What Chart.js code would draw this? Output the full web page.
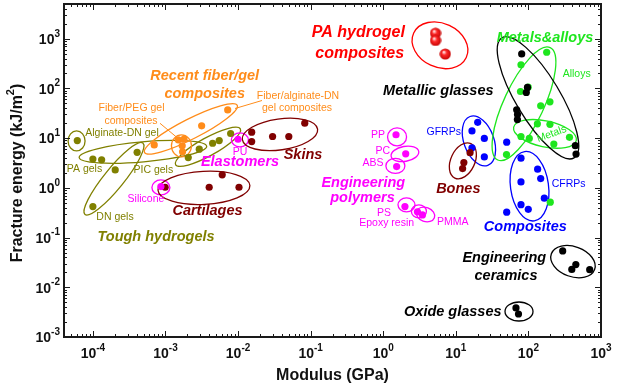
<!DOCTYPE html>
<html>
<head>
<meta charset="utf-8">
<script src="https://cdn.jsdelivr.net/npm/chart.js@4.4.1/dist/chart.umd.min.js"></script>
<style>
  body { margin: 0; background: #fff; }
  canvas { display: block; }
</style>
</head>
<body>
<canvas id="grafico" width="619" height="387"></canvas>
<script>
// values: modulus in GPa, fracture energy in kJ/m2
const hydrogelModulus = [6.1e-5, 1.0e-4, 1.32e-4, 1.0e-4, 2.03e-4, 4.07e-4, 2.06e-3, 2.92e-3, 4.46e-3, 5.5e-3, 7.9e-3]
const hydrogelEnergy  = [8.95, 3.8, 3.66, 0.42, 2.3, 5.2, 4.07, 6.0, 7.9, 8.95, 12.4]

const fiberGelModulus = [7.0e-4, 1.5e-3, 1.8e-3, 1.7e-3, 1.72e-3, 3.15e-3, 7.2e-3]
const fiberGelEnergy  = [7.3, 9.25, 9.55, 7.0, 5.3, 17.7, 37]

const elastomerModulus = [8.65e-4, 1.0e-2]
const elastomerEnergy  = [1.06, 9.5]

const polymerModulus = [1.5, 2.04, 1.53, 1.99, 2.96, 3.47]
const polymerEnergy  = [11.7, 4.83, 2.68, 0.42, 0.33, 0.286]

const tissueModulus = [9.9e-4, 4.0e-3, 6.05e-3, 1.03e-2, 1.54e-2, 1.54e-2, 2.99e-2, 5.0e-2, 8.3e-2, 15.7, 12.9, 12.4]
const tissueEnergy  = [1.03, 1.03, 1.83, 1.03, 13.2, 8.55, 10.8, 10.8, 20, 5.1, 3.23, 2.45]

const paCompositeModulus = [5.25, 5.25, 7.16]
const paCompositeEnergy  = [1290, 923, 492]

const metalModulus = [178.6, 79, 77.8, 99.3, 147.6, 198, 133, 198, 79, 102.8, 224, 368, 49.9, 200]
const metalEnergy  = [535, 299, 86.9, 106, 44.7, 53.9, 19.4, 19.0, 10.8, 9.9, 7.6, 10.4, 4.68, 0.515]

const glassModulus = [80.8, 97, 93.5, 68.9, 70.8, 70.5, 443, 453]
const glassEnergy  = [494, 105, 82.9, 37.2, 29.9, 23.7, 7.07, 4.79]

const compositeModulus = [20.0, 16.7, 24.7, 16.7, 24.7, 50.2, 79, 134, 147.6, 79, 165.6, 79, 99.6, 50.2]
const compositeEnergy  = [20.8, 14.0, 9.9, 6.38, 4.2, 8.3, 3.96, 2.38, 1.54, 1.32, 0.62, 0.46, 0.37, 0.325]

const ceramicModulus = [296.6, 450, 396, 699, 67.4, 73]
const ceramicEnergy  = [0.0538, 0.0286, 0.0229, 0.0226, 0.00384, 0.0029]

const xTickExps = [-4, -3, -2, -1, 0, 1, 2, 3]
const yTickExps = [-3, -2, -1, 0, 1, 2, 3]

const OLIVE = '#808000', ORANGE = '#ff8c1a', MAGENTA = '#ff00ff', MAROON = '#800000'
const RED = '#ff0000', GREEN = '#1ee61e', BLUE = '#0000ff', BLACK = '#000000'

function pontos(xs, ys){
    return xs.map((x, i) => ({x: x, y: ys[i]}))
}

// shaded red ball for the PA hydrogel points
function esfera(){
    const c = document.createElement('canvas')
    c.width = 12; c.height = 12
    const g = c.getContext('2d')
    const grad = g.createRadialGradient(4.5, 4, 0.5, 6, 6, 6)
    grad.addColorStop(0, '#ffe0e0')
    grad.addColorStop(0.35, '#ff2a2a')
    grad.addColorStop(1, '#c00000')
    g.fillStyle = grad
    g.beginPath(); g.arc(6, 6, 5.6, 0, Math.PI * 2); g.fill()
    return c
}

function serie(xs, ys, cor){
    return {
        data: pontos(xs, ys),
        backgroundColor: cor,
        borderWidth: 0,
        pointRadius: 3.6,
        pointHoverRadius: 3.6
    }
}

const datasets = [
    serie(hydrogelModulus, hydrogelEnergy, OLIVE),
    serie(fiberGelModulus, fiberGelEnergy, ORANGE),
    serie(elastomerModulus, elastomerEnergy, MAGENTA),
    serie(polymerModulus, polymerEnergy, MAGENTA),
    serie(tissueModulus, tissueEnergy, MAROON),
    serie(glassModulus, glassEnergy, BLACK),
    serie(metalModulus, metalEnergy, GREEN),
    serie(compositeModulus, compositeEnergy, BLUE),
    serie(ceramicModulus, ceramicEnergy, BLACK),
    Object.assign(serie(paCompositeModulus, paCompositeEnergy, RED), {pointStyle: esfera()})
]

// ellipses: centre in data units, radii in px, rotation in degrees
const elipses = [
    {x: 5.96e-5, y: 8.8,  rx: 8.5, ry: 10,  rot: 0,   cor: OLIVE},
    {x: 4.89e-4, y: 5.3,  rx: 64,  ry: 10,  rot: -5,  cor: OLIVE},
    {x: 1.95e-4, y: 1.52, rx: 46,  ry: 10,  rot: -51, cor: OLIVE},
    {x: 3.85e-3, y: 6.7,  rx: 37,  ry: 9,   rot: -29, cor: OLIVE},
    {x: 2.24e-3, y: 15.4, rx: 52,  ry: 10,  rot: -27, cor: ORANGE},
    {x: 1.66e-3, y: 7.0,  rx: 10,  ry: 11,  rot: 0,   cor: ORANGE},
    {x: 1.06e-2, y: 9.25, rx: 8.5, ry: 7,   rot: 0,   cor: MAGENTA},
    {x: 8.65e-4, y: 1.02, rx: 9,   ry: 7.5, rot: 0,   cor: MAGENTA},
    {x: 3.39e-3, y: 1.0,  rx: 46,  ry: 16.5,rot: -3,  cor: MAROON},
    {x: 3.78e-2, y: 11.9, rx: 38,  ry: 15.5,rot: -8,  cor: MAROON},
    {x: 1.55,    y: 10.6, rx: 9.5, ry: 9,   rot: 0,   cor: MAGENTA},
    {x: 1.99,    y: 4.83, rx: 14,  ry: 7.5, rot: -10, cor: MAGENTA},
    {x: 1.47,    y: 2.77, rx: 9.5, ry: 7.5, rot: 0,   cor: MAGENTA},
    {x: 2.09,    y: 0.455,rx: 8.5, ry: 7,   rot: 0,   cor: MAGENTA},
    {x: 3.1,     y: 0.336,rx: 7.5, ry: 6.5, rot: 0,   cor: MAGENTA},
    {x: 3.82,    y: 0.292,rx: 9.5, ry: 7,   rot: 20,  cor: MAGENTA},
    {x: 6.05,    y: 739,  rx: 29,  ry: 22,  rot: 25,  cor: RED},
    {x: 20.8,    y: 8.8,  rx: 15,  ry: 26,  rot: -20, cor: BLUE},
    {x: 12.5,    y: 3.5,  rx: 12,  ry: 19,  rot: 25,  cor: MAROON},
    {x: 86.9,    y: 49.1, rx: 20,  ry: 62,  rot: 25,  cor: GREEN},
    {x: 169,     y: 12.2, rx: 32,  ry: 13,  rot: 12,  cor: GREEN},
    {x: 135.5,   y: 64.8, rx: 22,  ry: 70,  rot: -31, cor: BLACK},
    {x: 103.5,   y: 1.08, rx: 19,  ry: 35,  rot: -8,  cor: BLUE},
    {x: 411,     y: 0.0328,rx: 23, ry: 15,  rot: 20,  cor: BLACK},
    {x: 74.2,    y: 0.00326,rx: 14,ry: 9.5, rot: 0,   cor: BLACK}
]

const linhas = [
    {x1: 160, y1: 123.3, x2: 176, y2: 136.7, cor: ORANGE},
    {x1: 235, y1: 108.5, x2: 262, y2: 100.5, cor: ORANGE}
]

// text labels, px positions (middle baseline)
const BI = 'italic bold 14.5px "Liberation Sans", Arial, sans-serif'
const BIG = 'italic bold 16px "Liberation Sans", Arial, sans-serif'
const N = '10.5px "Liberation Sans", Arial, sans-serif'
const rotulos = [
    {t: 'Recent fiber/gel', x: 204.7, y: 76, c: ORANGE, f: BI},
    {t: 'composites', x: 204.7, y: 94, c: ORANGE, f: BI},
    {t: 'Tough hydrogels', x: 156, y: 236.7, c: OLIVE, f: BI},
    {t: 'Elastomers', x: 240, y: 162.3, c: MAGENTA, f: BI},
    {t: 'Cartilages', x: 207.5, y: 210.7, c: MAROON, f: BI},
    {t: 'Skins', x: 303, y: 155, c: MAROON, f: BI},
    {t: 'Engineering', x: 363.3, y: 182.7, c: MAGENTA, f: BI},
    {t: 'polymers', x: 362.5, y: 198.3, c: MAGENTA, f: BI},
    {t: 'Metals&alloys', x: 545, y: 37.7, c: GREEN, f: BI},
    {t: 'Metallic glasses', x: 438.3, y: 90.7, c: BLACK, f: BI},
    {t: 'Bones', x: 458.3, y: 189.3, c: MAROON, f: BI},
    {t: 'Composites', x: 525.3, y: 226.7, c: BLUE, f: BI},
    {t: 'Engineering', x: 504.3, y: 258.3, c: BLACK, f: BI},
    {t: 'ceramics', x: 506, y: 276, c: BLACK, f: BI},
    {t: 'Oxide glasses', x: 452.8, y: 311.7, c: BLACK, f: BI},
    {t: 'PA hydrogel', x: 358.3, y: 32.3, c: RED, f: BIG},
    {t: 'composites', x: 359.7, y: 53.3, c: RED, f: BIG},
    {t: 'Fiber/PEG gel', x: 131.5, y: 108.3, c: ORANGE, f: N},
    {t: 'composites', x: 131, y: 120.7, c: ORANGE, f: N},
    {t: 'Fiber/alginate-DN', x: 298, y: 96, c: ORANGE, f: N},
    {t: 'gel composites', x: 297, y: 108.3, c: ORANGE, f: N},
    {t: 'Alginate-DN gel', x: 122, y: 133.3, c: OLIVE, f: N},
    {t: 'PA gels', x: 84.5, y: 169.3, c: OLIVE, f: N},
    {t: 'DN gels', x: 115, y: 217.3, c: OLIVE, f: N},
    {t: 'PIC gels', x: 153.3, y: 170, c: OLIVE, f: N},
    {t: 'PU', x: 240, y: 151.7, c: MAGENTA, f: N},
    {t: 'Silicone', x: 146, y: 199.3, c: MAGENTA, f: N},
    {t: 'PP', x: 385, y: 135, c: MAGENTA, f: N, a: 'right'},
    {t: 'PC', x: 390, y: 150.7, c: MAGENTA, f: N, a: 'right'},
    {t: 'ABS', x: 383.5, y: 163.3, c: MAGENTA, f: N, a: 'right'},
    {t: 'PS', x: 391, y: 212.7, c: MAGENTA, f: N, a: 'right'},
    {t: 'Epoxy resin', x: 386.7, y: 223.3, c: MAGENTA, f: N},
    {t: 'PMMA', x: 437, y: 221.7, c: MAGENTA, f: N, a: 'left'},
    {t: 'Alloys', x: 576.7, y: 74, c: GREEN, f: N},
    {t: 'Metals', x: 551.7, y: 134, c: GREEN, f: N, r: -20},
    {t: 'GFRPs', x: 443.7, y: 131.7, c: BLUE, f: N},
    {t: 'CFRPs', x: 568.7, y: 184.3, c: BLUE, f: N}
]

function textoPotencia(ctx, x, y, exp, alinhar){
    const base = 'bold 14px "Liberation Sans", Arial, sans-serif'
    const sup = 'bold 10px "Liberation Sans", Arial, sans-serif'
    const e = exp < 0 ? '-' + Math.abs(exp) : String(exp)
    ctx.font = base
    const w1 = ctx.measureText('10').width
    ctx.font = sup
    const w2 = ctx.measureText(e).width
    let x0 = alinhar == 'right' ? x - w1 - w2 : x - (w1 + w2) / 2
    ctx.textAlign = 'left'
    ctx.textBaseline = 'alphabetic'
    ctx.font = base
    ctx.fillText('10', x0, y)
    ctx.font = sup
    ctx.fillText(e, x0 + w1, y - 7.5)
}

const decoracao = {
    id: 'decoracao',
    beforeDatasetsDraw(chart){
        const ctx = chart.ctx
        const xs = chart.scales.x, ys = chart.scales.y
        ctx.save()
        ctx.lineWidth = 1.3
        for (const el of elipses){
            ctx.strokeStyle = el.cor
            ctx.beginPath()
            ctx.ellipse(xs.getPixelForValue(el.x), ys.getPixelForValue(el.y), el.rx, el.ry, el.rot * Math.PI / 180, 0, Math.PI * 2)
            ctx.stroke()
        }
        ctx.lineWidth = 1
        for (const l of linhas){
            ctx.strokeStyle = l.cor
            ctx.beginPath(); ctx.moveTo(l.x1, l.y1); ctx.lineTo(l.x2, l.y2); ctx.stroke()
        }
        ctx.restore()
    },
    afterDatasetsDraw(chart){
        const ctx = chart.ctx
        ctx.save()
        for (const r of rotulos){
            ctx.font = r.f
            ctx.fillStyle = r.c
            ctx.textAlign = r.a || 'center'
            ctx.textBaseline = 'middle'
            if (r.r){
                ctx.save()
                ctx.translate(r.x, r.y)
                ctx.rotate(r.r * Math.PI / 180)
                ctx.fillText(r.t, 0, 0)
                ctx.restore()
            } else {
                ctx.fillText(r.t, r.x, r.y)
            }
        }
        ctx.restore()
    },
    afterDraw(chart){
        const ctx = chart.ctx
        const a = chart.chartArea
        const xs = chart.scales.x, ys = chart.scales.y
        ctx.save()
        ctx.strokeStyle = '#1a1a1a'
        ctx.lineWidth = 1
        // inward ticks on all four sides
        for (let e = -5; e <= 3; e++){
            for (let m = 1; m <= 9; m++){
                const v = m * Math.pow(10, e)
                const len = m == 1 ? 6 : 3
                if (v >= xs.min * 0.999 && v <= xs.max * 1.001){
                    const px = Math.round(xs.getPixelForValue(v)) + 0.5
                    ctx.beginPath()
                    ctx.moveTo(px, a.bottom); ctx.lineTo(px, a.bottom - len)
                    ctx.moveTo(px, a.top); ctx.lineTo(px, a.top + len)
                    ctx.stroke()
                }
                if (v >= ys.min * 0.999 && v <= ys.max * 1.001){
                    const py = Math.round(ys.getPixelForValue(v)) + 0.5
                    ctx.beginPath()
                    ctx.moveTo(a.left, py); ctx.lineTo(a.left + len, py)
                    ctx.moveTo(a.right, py); ctx.lineTo(a.right - len, py)
                    ctx.stroke()
                }
            }
        }
        ctx.lineWidth = 2
        ctx.strokeRect(a.left, a.top, a.right - a.left, a.bottom - a.top)

        ctx.fillStyle = '#111'
        for (const e of xTickExps){
            textoPotencia(ctx, xs.getPixelForValue(Math.pow(10, e)), 358.3, e, 'center')
        }
        for (const e of yTickExps){
            textoPotencia(ctx, 60, ys.getPixelForValue(Math.pow(10, e)) + 5.3, e, 'right')
        }

        // axis titles
        ctx.font = 'bold 16px "Liberation Sans", Arial, sans-serif'
        ctx.textAlign = 'center'
        ctx.textBaseline = 'alphabetic'
        ctx.fillText('Modulus (GPa)', 332.5, 380)

        ctx.translate(21.5, 173)
        ctx.rotate(-Math.PI / 2)
        const p1 = 'Fracture energy (kJ/m', p2 = '2', p3 = ')'
        const fB = 'bold 16px "Liberation Sans", Arial, sans-serif'
        const fS = 'bold 11px "Liberation Sans", Arial, sans-serif'
        ctx.font = fB
        const w1 = ctx.measureText(p1).width, w3 = ctx.measureText(p3).width
        ctx.font = fS
        const w2 = ctx.measureText(p2).width
        let x0 = -(w1 + w2 + w3) / 2
        ctx.textAlign = 'left'
        ctx.font = fB
        ctx.fillText(p1, x0, 0)
        ctx.font = fS
        ctx.fillText(p2, x0 + w1, -8)
        ctx.font = fB
        ctx.fillText(p3, x0 + w1 + w2, 0)
        ctx.restore()
    }
}

const grafico = new Chart(document.getElementById('grafico'), {
    type: 'scatter',
    data: { datasets: datasets },
    options: {
        responsive: false,
        animation: false,
        layout: { padding: { left: 64, right: 18, top: 4, bottom: 50 } },
        scales: {
            x: { type: 'logarithmic', min: 4e-5, max: 1000, display: false },
            y: { type: 'logarithmic', min: 1e-3, max: 5000, display: false }
        },
        plugins: {
            legend: { display: false },
            tooltip: { enabled: false }
        }
    },
    plugins: [decoracao]
})
</script>
</body>
</html>
